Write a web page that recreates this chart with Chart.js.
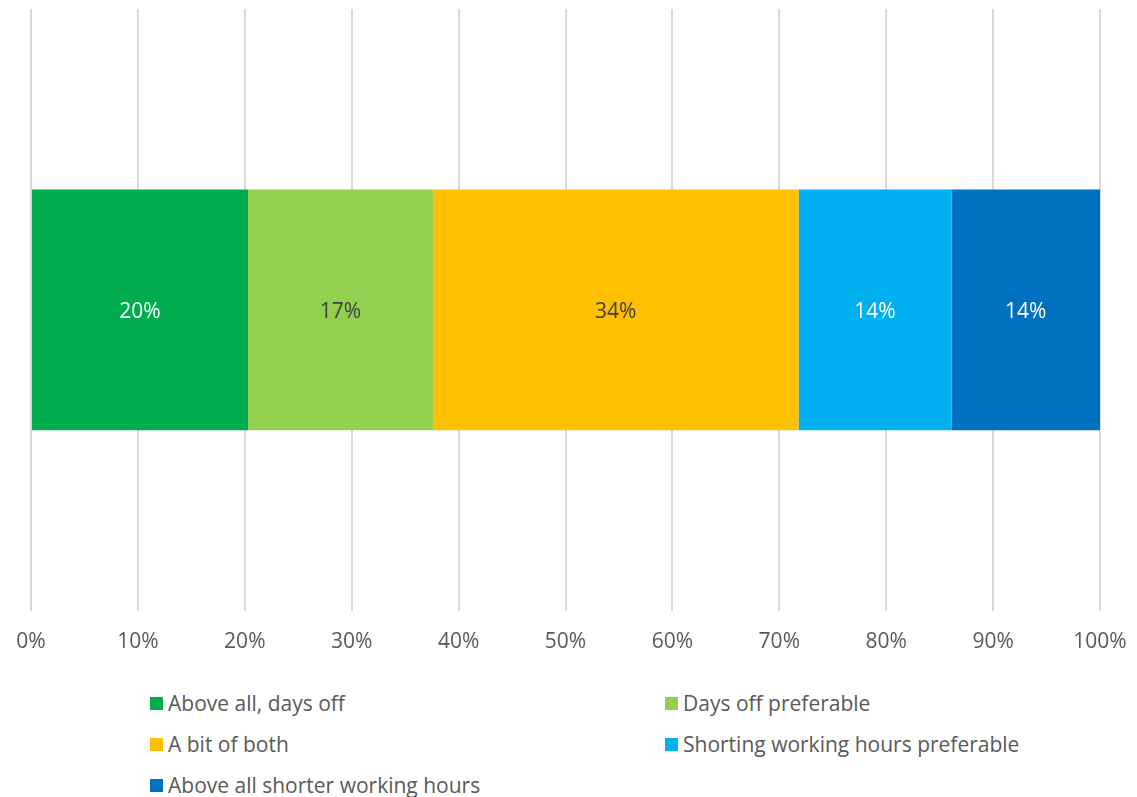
<!DOCTYPE html>
<html>
<head>
<meta charset="utf-8">
<script src="https://cdn.jsdelivr.net/npm/chart.js@4"></script>
<style>
  body { margin: 0; background: #fff; font-family: "Open Sans", sans-serif; }
  #wrap { position: relative; width: 1137px; height: 797px; }
  #chart { position: absolute; left: 0; top: 0; }
  #legend { position: absolute; left: 150px; top: 688px; display: grid;
            grid-template-columns: 515px 400px; row-gap: 11px; }
  .item { display: flex; align-items: center; font-size: 21px; color: #595959; height: 30px; white-space: nowrap; }
  .box { width: 13px; height: 13px; margin-right: 5px; flex: none; }
</style>
</head>
<body>
<div id="wrap">
  <canvas id="chart" width="1137" height="680"></canvas>
  <div id="legend"></div>
</div>
<script>
// series names, values (% of respondents) and colours
const seriesNames = ['Above all, days off', 'Days off preferable', 'A bit of both',
  'Shorting working hours preferable', 'Above all shorter working hours'];
const seriesValues = [20.3, 17.3, 34.2, 14.3, 13.9];
const seriesColors = ['#00AD4E', '#92D050', '#FFC000', '#00B0F0', '#0070C0'];
const labelColors = ['#ffffff', '#404040', '#404040', '#ffffff', '#ffffff'];
const tickLabels = ['0%', '10%', '20%', '30%', '40%', '50%', '60%', '70%', '80%', '90%', '100%'];

const datasets = seriesNames.map((name, i) => ({
  label: name,
  data: [seriesValues[i]],
  backgroundColor: seriesColors[i],
  borderWidth: 0,
  barPercentage: 0.4,
  categoryPercentage: 1
}));

// draw value labels in the middle of each segment
const valueLabels = {
  id: 'valueLabels',
  afterDatasetsDraw(chart) {
    const ctx = chart.ctx;
    ctx.save();
    ctx.font = '21px "Open Sans"';
    ctx.textAlign = 'center';
    ctx.textBaseline = 'middle';
    chart.data.datasets.forEach((ds, i) => {
      chart.getDatasetMeta(i).data.forEach((bar, j) => {
        const x = (bar.x + bar.base) / 2;
        ctx.fillStyle = labelColors[i];
        ctx.fillText(Math.round(ds.data[j]) + '%', x, bar.y + 2);
      });
    });
    ctx.restore();
  }
};

new Chart(document.getElementById('chart'), {
  type: 'bar',
  data: { labels: [''], datasets: datasets },
  options: {
    indexAxis: 'y',
    responsive: false,
    animation: false,
    layout: { padding: { left: 31, right: 37, top: 9, bottom: 6 } },
    scales: {
      x: {
        stacked: true,
        min: 0,
        max: 100,
        border: { display: false },
        grid: { color: '#d9d9d9', lineWidth: 2, drawTicks: false },
        ticks: {
          stepSize: 10,
          padding: 19,
          color: '#595959',
          font: { family: 'Open Sans', size: 21 },
          callback: (v, i) => tickLabels[i]
        },
        afterFit(scale) {
          // let the layout padding alone decide the plot width
          scale.paddingLeft = 0;
          scale.paddingRight = 0;
        }
      },
      y: { stacked: true, display: false }
    },
    plugins: {
      legend: { display: false },
      tooltip: { enabled: false }
    }
  },
  plugins: [valueLabels]
});

// legend in two columns, like the original
const legend = document.getElementById('legend');
seriesNames.forEach((name, i) => {
  const item = document.createElement('div');
  item.className = 'item';
  item.innerHTML = '<span class="box" style="background:' + seriesColors[i] + '"></span>' + name;
  legend.appendChild(item);
});
</script>
</body>
</html>
